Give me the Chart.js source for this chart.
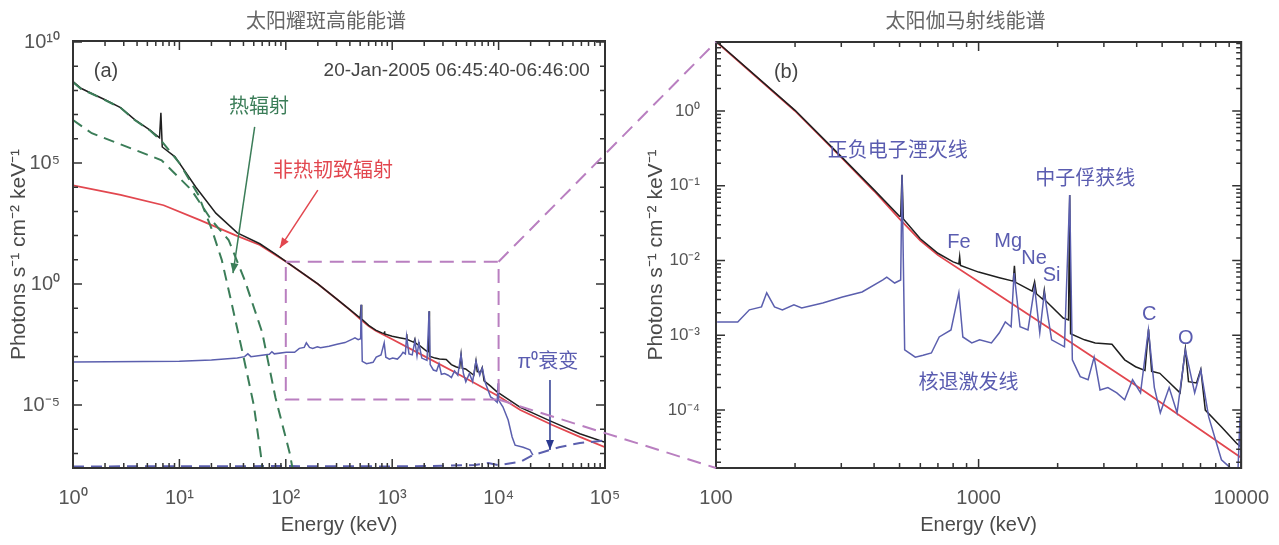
<!DOCTYPE html>
<html>
<head>
<meta charset="utf-8">
<script src="https://cdn.jsdelivr.net/npm/chart.js@4.4.1/dist/chart.umd.min.js"></script>
<style>
  html, body { margin: 0; padding: 0; background: #fff; }
  #wrap { position: relative; width: 1279px; height: 545px; overflow: hidden; }
  #left { position: absolute; left: 0; top: 0; }
  #right { position: absolute; left: 640px; top: 0; }
  #overlay { position: absolute; left: 0; top: 0; pointer-events: none; }
</style>
</head>
<body>
<div id="wrap">
  <canvas id="left" width="640" height="545"></canvas>
  <canvas id="right" width="639" height="545"></canvas>
  <canvas id="overlay" width="1279" height="545"></canvas>
</div>
<script>
const FONT = "'Liberation Sans', Arial, 'Noto Sans CJK SC', sans-serif";

// ---- data: [energy keV, photons s-1 cm-2 keV-1] ----

// panel (a) only: thermal components
const thermalCool = [[1, 2.2e8], [1.2, 1.1e8], [1.45, 7.8e7], [2.0, 4.0e7], [2.8, 1.9e7], [3.8, 6.0e6],
  [5.3, 2.2e6], [6.8, 8.0e5], [10, 1.0e5], [15, 5.0e3], [20, 200], [25, 10], [30, 0.3], [40, 1e-3],
  [50, 1e-5], [58, 1e-7], [62, 1e-8]];
const thermalHot = [[1, 6.0e6], [1.5, 1.7e6], [3.8, 3.5e5], [6.8, 1.3e5], [13, 7.6e3], [20, 440],
  [29, 66], [41, 1.5], [60, 1e-2], [80, 2e-5], [109, 1e-7], [120, 1e-8]];

// below 100 keV (panel a)
const totalLow = [[1, 2.3e8], [1.2, 1.2e8], [1.45, 8.0e7], [2.0, 4.1e7], [2.8, 1.95e7], [3.8, 6.2e6],
  [5.3, 2.3e6], [6.5, 1.1e6], [6.7, 1.2e7], [6.9, 4.6e5], [9.1, 1.8e5], [14.3, 1.0e4], [22, 850],
  [35, 130], [57, 46], [80, 17]];
const bremsLow = [[1, 1.2e4], [2.8, 4.8e3], [7.1, 1.8e3], [15.6, 440], [33.4, 105], [57, 41], [80, 16]];
const nuclearLow = [[1, 6.0e-4], [10, 6.4e-4], [20, 7.3e-4], [35, 8.8e-4], [41, 1.0e-3], [44, 1.3e-3],
  [47, 1.0e-3], [70, 1.25e-3], [74, 1.6e-3], [78, 1.3e-3]];

// 100 keV - 10 MeV (both panels)
const totalMid = [[100, 8.6], [200, 1.02], [300, 0.245], [400, 0.088], [500, 0.039], [505, 0.039],
  [511, 0.14], [517, 0.036], [600, 0.0195], [700, 0.0125], [800, 9.6e-3], [841, 9.0e-3], [847, 0.0112],
  [853, 8.6e-3], [1000, 7.0e-3], [1200, 5.9e-3], [1355, 5.3e-3], [1369, 8.5e-3], [1383, 5.1e-3],
  [1600, 3.9e-3], [1634, 5.2e-3], [1660, 3.6e-3], [1760, 3.0e-3], [1779, 4.0e-3], [1800, 2.9e-3],
  [2100, 1.7e-3], [2200, 1.6e-3], [2223, 0.075], [2240, 1.05e-3], [2530, 8.7e-4], [2780, 7.9e-4],
  [3220, 7.6e-4], [3600, 4.7e-4], [3960, 3.8e-4], [4300, 3.4e-4], [4438, 1.2e-3], [4560, 3.3e-4],
  [4900, 3.1e-4], [5850, 1.7e-4], [6129, 6.6e-4], [6300, 2.4e-4], [6760, 2.3e-4], [7018, 3.5e-4],
  [7300, 1.0e-4], [8400, 6.0e-5], [9600, 3.6e-5], [10000, 3.2e-5]];
const bremsMid = [[100, 8.5], [200, 1.0], [300, 0.24], [400, 0.085], [500, 0.036], [600, 0.0185],
  [700, 0.0118], [1000, 5.2e-3], [2000, 1.05e-3], [4000, 2.1e-4], [10000, 2.3e-5]];
const nuclearMid = [[101, 1.51e-3], [121, 1.51e-3], [134, 2.19e-3], [149, 2.4e-3], [156, 3.7e-3],
  [167, 2.4e-3], [179, 2.19e-3], [198, 2.55e-3], [212, 2.32e-3], [255, 2.71e-3], [303, 3.26e-3],
  [360, 3.8e-3], [432, 5.5e-3], [447, 6.0e-3], [479, 5.0e-3], [505, 5.5e-3], [511, 0.139], [523, 6.4e-4],
  [574, 5.1e-4], [615, 5.4e-4], [661, 5.8e-4], [708, 9.5e-4], [785, 1.18e-3], [841, 3.7e-3], [871, 9.5e-4],
  [942, 7.9e-4], [1009, 8.7e-4], [1119, 7.9e-4], [1200, 1.08e-3], [1264, 1.51e-3], [1330, 1.3e-3],
  [1365, 6.8e-3], [1438, 1.3e-3], [1542, 1.18e-3], [1634, 4.4e-3], [1710, 1.08e-3], [1779, 3.7e-3],
  [1897, 8.7e-4], [2123, 7.0e-4], [2223, 0.075], [2275, 4.7e-4], [2438, 2.8e-4], [2612, 2.54e-4],
  [2754, 5.1e-4], [2900, 1.86e-4], [3107, 2.0e-4], [3360, 1.7e-4], [3600, 1.37e-4], [3857, 2.54e-4],
  [4137, 1.7e-4], [4433, 1.18e-3], [4670, 2.0e-4], [4920, 9.2e-5], [5316, 2.0e-4], [5700, 9.2e-5],
  [6129, 6.4e-4], [6650, 1.7e-4], [7018, 3.4e-4], [7520, 8.1e-5], [8410, 2.16e-5], [9010, 1.74e-5],
  [9700, 1.3e-5], [9900, 8.0e-5], [10000, 1.6e-5]];

// above 10 MeV (panel a)
const totalHigh = [[1.6e4, 8.0e-6], [3.2e4, 2.0e-6], [5.8e4, 6.5e-7], [1e5, 2.9e-7]];
const bremsHigh = [[1.6e4, 6.2e-6], [3.2e4, 1.5e-6], [5.8e4, 4.8e-7], [1e5, 1.8e-7]];
const nuclearHigh = [[1.1e4, 8.3e-6], [1.23e4, 2.4e-6], [1.34e4, 4.8e-7], [1.43e4, 2.2e-7], [1.7e4, 1.8e-7],
  [1.97e4, 1.4e-7], [2.1e4, 8.5e-8]];
const pionDecay = [[1, 2.9e-8], [100, 3.0e-8], [1000, 2.9e-8], [3000, 3.1e-8], [6000, 3.3e-8], [8000, 4.0e-8],
  [1e4, 3.3e-8], [1.6e4, 4.5e-8], [2.1e4, 8.5e-8], [3.7e4, 1.8e-7], [5.8e4, 2.7e-7], [1e5, 3.4e-7]];

// ---- axes ----
const leftXTicks = [1, 10, 100, 1e3, 1e4, 1e5];
const leftXLabels = ['10\u2070', '10\u00b9', '10\u00b2', '10\u00b3', '10\u2074', '10\u2075'];
const leftYTicks = [1e-5, 1, 1e5, 1e10];
const leftYLabels = ['10\u207b\u2075', '10\u2070', '10\u2075', '10\u00b9\u2070'];
const rightXTicks = [100, 1000, 10000];
const rightXLabels = ['100', '1000', '10000'];
const rightYTicks = [1e-4, 1e-3, 1e-2, 1e-1, 1];
const rightYLabels = ['10\u207b\u2074', '10\u207b\u00b3', '10\u207b\u00b2', '10\u207b\u00b9', '10\u2070'];

const BLACK = '#1f1f1f', RED = '#e2474f', BLUE = '#5b5fae', GREEN = '#3b7d58';
const PURPLE = '#b97fc0', GREY = '#555', LABEL_BLUE = '#5a5cb0', DARK_BLUE = '#2b3990';

function pts(list) { return list.map(p => ({ x: p[0], y: p[1] })); }

function line(data, color, width, dash) {
  return { data: pts(data), showLine: true, borderColor: color, borderWidth: width,
    borderDash: dash || [], pointRadius: 0, fill: false, tension: 0 };
}

function logTicks(min, max, minor) {
  const out = [];
  for (let e = Math.floor(Math.log10(min)); e <= Math.ceil(Math.log10(max)); e++) {
    const steps = minor ? [1, 2, 3, 4, 5, 6, 7, 8, 9] : [1];
    for (const s of steps) {
      const v = s * Math.pow(10, e);
      if (v >= min * 0.999 && v <= max * 1.001) out.push({ value: v });
    }
  }
  return out;
}

function same(a, b) { return Math.abs(a / b - 1) < 1e-6; }

function labelFor(values, labels) {
  return v => {
    const i = values.findIndex(t => same(t, v));
    return i >= 0 ? labels[i] : '';
  };
}

// inward tick marks on all four sides plus the frame
const frameTicks = {
  id: 'frameTicks',
  afterDraw(chart, args, opts) {
    const { ctx, chartArea: a } = chart;
    ctx.save();
    ctx.strokeStyle = '#333';
    ctx.lineWidth = 1.5;
    for (const id of ['x', 'y']) {
      const s = chart.scales[id];
      for (const t of s.ticks) {
        const len = opts[id].some(v => same(v, t.value)) ? 9 : 5;
        const p = s.getPixelForValue(t.value);
        ctx.beginPath();
        if (id === 'x') {
          ctx.moveTo(p, a.bottom); ctx.lineTo(p, a.bottom - len);
          ctx.moveTo(p, a.top); ctx.lineTo(p, a.top + len);
        } else {
          ctx.moveTo(a.left, p); ctx.lineTo(a.left + len, p);
          ctx.moveTo(a.right, p); ctx.lineTo(a.right - len, p);
        }
        ctx.stroke();
      }
    }
    ctx.lineWidth = 2;
    ctx.strokeRect(a.left, a.top, a.right - a.left, a.bottom - a.top);
    // panel title
    ctx.fillStyle = '#666';
    ctx.font = '20px ' + FONT;
    ctx.textAlign = 'center';
    ctx.textBaseline = 'middle';
    ctx.fillText(opts.title, (a.left + a.right) / 2 - 13, 22);
    ctx.restore();
  }
};

// texts and arrows placed in data coordinates
const notes = {
  id: 'notes',
  afterDatasetsDraw(chart, args, opts) {
    const { ctx, scales: { x, y } } = chart;
    ctx.save();
    for (const ar of opts.arrows || []) {
      const x1 = x.getPixelForValue(ar.from[0]), y1 = y.getPixelForValue(ar.from[1]);
      const x2 = x.getPixelForValue(ar.to[0]), y2 = y.getPixelForValue(ar.to[1]);
      ctx.strokeStyle = ar.color;
      ctx.fillStyle = ar.color;
      ctx.lineWidth = 1.5;
      ctx.beginPath(); ctx.moveTo(x1, y1); ctx.lineTo(x2, y2); ctx.stroke();
      const ang = Math.atan2(y2 - y1, x2 - x1);
      ctx.beginPath();
      ctx.moveTo(x2, y2);
      ctx.lineTo(x2 - 10 * Math.cos(ang) + 4 * Math.sin(ang), y2 - 10 * Math.sin(ang) - 4 * Math.cos(ang));
      ctx.lineTo(x2 - 10 * Math.cos(ang) - 4 * Math.sin(ang), y2 - 10 * Math.sin(ang) + 4 * Math.cos(ang));
      ctx.closePath();
      ctx.fill();
    }
    for (const n of opts.texts || []) {
      ctx.font = (n.size || 20) + 'px ' + FONT;
      ctx.fillStyle = n.color;
      ctx.textAlign = n.align || 'center';
      ctx.textBaseline = 'middle';
      ctx.fillText(n.text, x.getPixelForValue(n.at[0]), y.getPixelForValue(n.at[1]));
    }
    ctx.restore();
  }
};

function axisOpts(min, max, minor, tickVals, tickLabels, isX, size, title, titlePad, tickPad, tickSize) {
  return {
    type: 'logarithmic', min, max,
    grid: { display: false }, border: { display: false },
    afterBuildTicks: s => { s.ticks = logTicks(min, max, minor); },
    afterFit: s => { if (isX) s.height = 77; else s.width = size; },
    ticks: { autoSkip: false, maxRotation: 0, padding: tickPad, color: GREY,
      font: { family: FONT, size: tickSize }, callback: labelFor(tickVals, tickLabels) },
    title: { display: true, text: title, color: '#4a4a4a', font: { family: FONT, size: isX ? 20 : 21 },
      padding: titlePad }
  };
}

const baseOptions = (padRight, padTop) => ({
  responsive: false, animation: false,
  layout: { padding: { left: 0, right: padRight, top: padTop, bottom: 0 } },
  plugins: { legend: { display: false }, tooltip: { enabled: false } }
});

const leftCanvas = document.getElementById('left');
const rightCanvas = document.getElementById('right');

const leftOpts = baseOptions(35, 41);
leftOpts.plugins.frameTicks = { x: leftXTicks, y: leftYTicks, title: '太阳耀斑高能能谱' };
leftOpts.plugins.notes = {
  texts: [
    { text: '(a)', at: [2.04, 6.3e8], color: '#444' },
    { text: '20-Jan-2005 06:45:40-06:46:00', at: [7.2e4, 6.3e8], color: '#444', size: 19, align: 'right' },
    { text: '热辐射', at: [56, 1.9e7], color: GREEN },
    { text: '非热韧致辐射', at: [278, 4.3e4], color: RED },
    { text: '\u03c0\u2070衰变', at: [2.9e4, 5.5e-4], color: LABEL_BLUE }
  ],
  arrows: [
    { from: [51, 3.1e6], to: [31.9, 2.8], color: GREEN },
    { from: [200, 7.6e3], to: [88, 31], color: RED },
    { from: [3.04e4, 1.07e-4], to: [3.04e4, 1.4e-7], color: DARK_BLUE }
  ]
};
leftOpts.scales = {
  x: axisOpts(1, 1e5, true, leftXTicks, leftXLabels, true, 0, 'Energy (keV)', { top: 0, bottom: 8 }, 10, 20),
  y: axisOpts(2.5e-8, 1.1e10, false, leftYTicks, leftYLabels, false, 73,
    'Photons s\u207b\u00b9 cm\u207b\u00b2 keV\u207b\u00b9', { top: 7, bottom: 0 }, 5, 20)
};

const leftChart = new Chart(leftCanvas, {
  type: 'scatter',
  data: {
    datasets: [
      line(thermalHot, GREEN, 2, [11, 7]),
      line(thermalCool, GREEN, 2, [11, 7]),
      line(pionDecay, BLUE, 2, [11, 7]),
      line(nuclearLow.concat(nuclearMid, nuclearHigh), BLUE, 1.5),
      line(totalLow.concat(totalMid, totalHigh), BLACK, 1.5),
      line(bremsLow.concat(bremsMid, bremsHigh), RED, 1.8)
    ]
  },
  options: leftOpts,
  plugins: [frameTicks, notes]
});

const rightOpts = baseOptions(31, 42);
rightOpts.plugins.frameTicks = { x: rightXTicks, y: rightYTicks, title: '太阳伽马射线能谱' };
rightOpts.plugins.notes = {
  texts: [
    { text: '(b)', at: [185, 3.3], color: '#444' },
    { text: '正负电子湮灭线', at: [492, 0.283], color: LABEL_BLUE },
    { text: '中子俘获线', at: [2548, 0.12], color: LABEL_BLUE },
    { text: 'Fe', at: [841, 0.0172], color: LABEL_BLUE },
    { text: 'Mg', at: [1297, 0.0177], color: LABEL_BLUE },
    { text: 'Ne', at: [1626, 0.0105], color: LABEL_BLUE },
    { text: 'Si', at: [1897, 0.0064], color: LABEL_BLUE },
    { text: 'C', at: [4467, 1.87e-3], color: LABEL_BLUE },
    { text: 'O', at: [6150, 9.2e-4], color: LABEL_BLUE },
    { text: '核退激发线', at: [916, 2.3e-4], color: LABEL_BLUE }
  ]
};
rightOpts.scales = {
  x: axisOpts(100, 10000, true, rightXTicks, rightXLabels, true, 0, 'Energy (keV)', { top: 0, bottom: 8 }, 10, 20),
  y: axisOpts(1.68e-5, 8.36, true, rightYTicks, rightYLabels, false, 76,
    'Photons s\u207b\u00b9 cm\u207b\u00b2 keV\u207b\u00b9', { top: 4, bottom: 0 }, 8, 17)
};

const rightChart = new Chart(rightCanvas, {
  type: 'scatter',
  data: {
    datasets: [
      line(nuclearMid, BLUE, 1.5),
      line(totalMid, BLACK, 1.5),
      line(bremsMid, RED, 1.8)
    ]
  },
  options: rightOpts,
  plugins: [frameTicks, notes]
});

// zoom box in panel (a) and the lines joining it to panel (b)
function drawZoomBox() {
  const ctx = document.getElementById('overlay').getContext('2d');
  const lx = leftChart.scales.x, ly = leftChart.scales.y;
  const rx = rightChart.scales.x, ry = rightChart.scales.y;
  const ra = rightChart.chartArea;
  const off = rightCanvas.offsetLeft;
  const x0 = lx.getPixelForValue(rx.min), x1 = lx.getPixelForValue(rx.max);
  const y0 = ly.getPixelForValue(ry.max), y1 = ly.getPixelForValue(ry.min);
  ctx.save();
  ctx.strokeStyle = PURPLE;
  ctx.lineWidth = 2;
  ctx.setLineDash([14, 8]);
  ctx.strokeRect(x0, y0, x1 - x0, y1 - y0);
  ctx.beginPath();
  ctx.moveTo(x1, y0); ctx.lineTo(off + ra.left, ra.top);
  ctx.moveTo(x1, y1); ctx.lineTo(off + ra.left, ra.bottom);
  ctx.stroke();
  ctx.restore();
}
drawZoomBox();
</script>
</body>
</html>
